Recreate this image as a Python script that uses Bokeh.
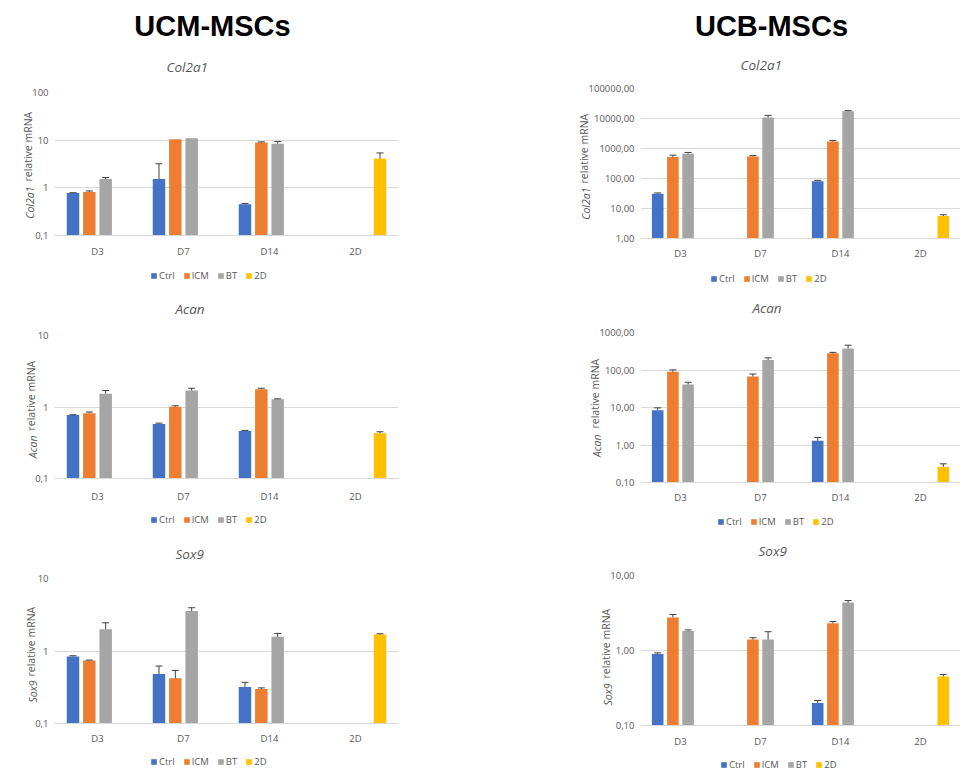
from bokeh.plotting import figure
from bokeh.models import (Range1d, FixedTicker, Legend, LegendItem, Label, Whisker,
                          TeeHead, ColumnDataSource, FactorRange, LinearAxis, LinearScale,
                          Title)
from bokeh.transform import dodge
from bokeh.layouts import column, row
from bokeh.embed import file_html
from bokeh.resources import INLINE

# ---------------- data ----------------
categories = ["D3", "D7", "D14", "2D"]
series = ["Ctrl", "ICM", "BT", "2D"]

# UCM-MSCs  Col2a1
ucm_col2a1_ctrl = [0.78, 1.53, 0.45, None]
ucm_col2a1_ctrl_sd = [0.01, 1.67, 0.02, None]
ucm_col2a1_icm = [0.82, 10.5, 8.9, None]
ucm_col2a1_icm_sd = [0.04, None, 0.3, None]
ucm_col2a1_bt = [1.53, 11.0, 8.4, None]
ucm_col2a1_bt_sd = [0.12, None, 1.0, None]
ucm_col2a1_2d = [None, None, None, 4.1]
ucm_col2a1_2d_sd = [None, None, None, 1.3]

# UCB-MSCs  Col2a1
ucb_col2a1_ctrl = [31.0, None, 81.0, None]
ucb_col2a1_ctrl_sd = [2.0, None, 6.0, None]
ucb_col2a1_icm = [519.0, 546.0, 1714.0, None]
ucb_col2a1_icm_sd = [80.0, 35.0, 140.0, None]
ucb_col2a1_bt = [670.0, 10700.0, 17300.0, None]
ucb_col2a1_bt_sd = [70.0, 2000.0, 1000.0, None]
ucb_col2a1_2d = [None, None, None, 5.6]
ucb_col2a1_2d_sd = [None, None, None, 0.6]

# UCM-MSCs  Acan
ucm_acan_ctrl = [0.77, 0.58, 0.46, None]
ucm_acan_ctrl_sd = [0.01, 0.015, 0.01, None]
ucm_acan_icm = [0.82, 1.01, 1.77, None]
ucm_acan_icm_sd = [0.03, 0.03, 0.06, None]
ucm_acan_bt = [1.53, 1.70, 1.28, None]
ucm_acan_bt_sd = [0.17, 0.13, 0.02, None]
ucm_acan_2d = [None, None, None, 0.43]
ucm_acan_2d_sd = [None, None, None, 0.02]

# UCB-MSCs  Acan
ucb_acan_ctrl = [8.5, None, 1.3, None]
ucb_acan_ctrl_sd = [1.3, None, 0.29, None]
ucb_acan_icm = [89.6, 67.0, 278.0, None]
ucb_acan_icm_sd = [11.0, 11.0, 17.0, None]
ucb_acan_bt = [41.0, 186.0, 377.0, None]
ucb_acan_bt_sd = [6.0, 24.0, 81.0, None]
ucb_acan_2d = [None, None, None, 0.26]
ucb_acan_2d_sd = [None, None, None, 0.055]

# UCM-MSCs  Sox9
ucm_sox9_ctrl = [0.84, 0.48, 0.32, None]
ucm_sox9_ctrl_sd = [0.02, 0.14, 0.05, None]
ucm_sox9_icm = [0.74, 0.42, 0.30, None]
ucm_sox9_icm_sd = [0.01, 0.12, 0.01, None]
ucm_sox9_bt = [2.0, 3.55, 1.57, None]
ucm_sox9_bt_sd = [0.45, 0.40, 0.18, None]
ucm_sox9_2d = [None, None, None, 1.69]
ucm_sox9_2d_sd = [None, None, None, 0.04]

# UCB-MSCs  Sox9
ucb_sox9_ctrl = [0.90, None, 0.20, None]
ucb_sox9_ctrl_sd = [0.03, None, 0.016, None]
ucb_sox9_icm = [2.76, 1.40, 2.30, None]
ucb_sox9_icm_sd = [0.26, 0.08, 0.14, None]
ucb_sox9_bt = [1.82, 1.40, 4.35, None]
ucb_sox9_bt_sd = [0.06, 0.38, 0.28, None]
ucb_sox9_2d = [None, None, None, 0.45]
ucb_sox9_2d_sd = [None, None, None, 0.03]

# axis ticks / labels
ucm_col2a1_ticks = [0.1, 1, 10, 100]
ucm_col2a1_tick_labels = ["0,1", "1", "10", "100"]
ucb_col2a1_ticks = [1, 10, 100, 1000, 10000, 100000]
ucb_col2a1_tick_labels = ["1,00", "10,00", "100,00", "1000,00", "10000,00", "100000,00"]
ucm_acan_ticks = [0.1, 1, 10]
ucm_acan_tick_labels = ["0,1", "1", "10"]
ucb_acan_ticks = [0.1, 1, 10, 100, 1000]
ucb_acan_tick_labels = ["0,10", "1,00", "10,00", "100,00", "1000,00"]
ucm_sox9_ticks = [0.1, 1, 10]
ucm_sox9_tick_labels = ["0,1", "1", "10"]
ucb_sox9_ticks = [0.1, 1, 10]
ucb_sox9_tick_labels = ["0,10", "1,00", "10,00"]

# ---------------- style ----------------
FONT = "Open Sans"
TXT = "#595959"
GRID = "#d9d9d9"
ERR = "#404040"
COLORS = ["#4472C4", "#ED7D31", "#A5A5A5", "#FFC000"]
OFFSETS = [-0.285, -0.095, 0.095, 0.285]
BAR_W = 0.145
YLAB_SIZE = "10.5px"
YLAB_SO = -14          # collapses the side panel of each y label title
GENE_W = {"Col2a1": 33.0, "Acan": 23.0, "Sox9": 22.5}   # approx. text widths
REL_W = 70.0
GAP = 3.0


def chart(gene, vals, sds, ticks, tick_labels, width, height, bl, br, bt, bb,
          title_off, title_so, ylab_c, ylab_gap, xlab_so):
    lo, hi = ticks[0], ticks[-1]
    frame_h = height - bt - bb
    p = figure(x_range=FactorRange(*categories), y_axis_type="log",
               y_range=Range1d(lo, hi), width=width, height=height,
               toolbar_location=None, output_backend="svg", title=gene,
               min_border_left=bl, min_border_right=br,
               min_border_top=bt, min_border_bottom=bb)
    p.outline_line_color = None
    p.background_fill_color = "white"
    p.extra_y_ranges = {"px": Range1d(0, frame_h)}
    p.extra_y_scales = {"px": LinearScale()}

    p.title.text_font = FONT
    p.title.text_font_style = "italic"
    p.title.text_font_size = "13.5px"
    p.title.text_color = TXT
    p.title.align = "left"
    p.title.vertical_align = "top"
    p.title.offset = title_off
    p.title.standoff = title_so

    ticker = FixedTicker(ticks=ticks)
    p.yaxis.ticker = ticker
    p.ygrid.ticker = ticker
    p.yaxis.major_label_overrides = {t: l for t, l in zip(ticks, tick_labels)}
    p.yaxis.axis_line_color = None
    p.yaxis.major_tick_line_color = None
    p.yaxis.minor_tick_line_color = None
    p.yaxis.major_tick_out = 0
    p.yaxis.major_tick_in = 0
    p.yaxis.minor_tick_out = 0
    p.yaxis.major_label_standoff = 6
    p.yaxis.major_label_text_font = FONT
    p.yaxis.major_label_text_font_size = "9.5px"
    p.yaxis.major_label_text_color = TXT

    p.xaxis.axis_line_color = GRID
    p.xaxis.major_tick_line_color = None
    p.xaxis.minor_tick_line_color = None
    p.xaxis.major_tick_out = 0
    p.xaxis.major_tick_in = 0
    p.xaxis.major_label_standoff = xlab_so
    p.xaxis.major_label_text_font = FONT
    p.xaxis.major_label_text_font_size = "9.5px"
    p.xaxis.major_label_text_color = TXT

    p.xgrid.grid_line_color = None
    p.ygrid.grid_line_color = GRID
    p.ygrid.grid_line_width = 1

    sources = []
    for i, name in enumerate(series):
        v = vals[i]
        s = sds[i]
        cats = [c for c, x in zip(categories, v) if x is not None]
        tops = [x for x in v if x is not None]
        src = ColumnDataSource(dict(cat=cats, top=tops))
        sources.append(src)
        p.vbar(x=dodge("cat", OFFSETS[i], range=p.x_range), top="top",
               bottom=lo, width=BAR_W, source=src,
               fill_color=COLORS[i], line_color=None)
        ecats = [c for c, x, e in zip(categories, v, s) if x is not None and e is not None]
        elow = [x for x, e in zip(v, s) if x is not None and e is not None]
        eup = [x + e for x, e in zip(v, s) if x is not None and e is not None]
        if ecats:
            esrc = ColumnDataSource(dict(cat=ecats, lower=elow, upper=eup))
            w = Whisker(source=esrc, base=dodge("cat", OFFSETS[i], range=p.x_range),
                        lower="lower", upper="upper", line_color=ERR, line_width=1,
                        lower_head=None,
                        upper_head=TeeHead(size=7, line_color=ERR, line_width=1),
                        level="overlay")
            p.add_layout(w)

    # empty spacer axis that sets the distance of the y label from the tick labels
    spacer = LinearAxis(y_range_name="px", ticker=FixedTicker(ticks=[]),
                        axis_line_color=None, major_tick_line_color=None,
                        minor_tick_line_color=None, major_tick_out=int(ylab_gap),
                        major_tick_in=0, minor_tick_out=0, minor_tick_in=0)
    p.add_layout(spacer, "left")

    # y axis label in two styles: italic gene name + normal "relative mRNA"
    wg = GENE_W[gene]
    total = wg + GAP + REL_W
    start = ylab_c - total / 2
    end_gene = start + wg
    p.add_layout(Title(text=gene, align="right", vertical_align="bottom",
                       offset=round(frame_h - end_gene), standoff=YLAB_SO,
                       text_font=FONT, text_font_style="italic",
                       text_font_size=YLAB_SIZE, text_color=TXT), "left")
    p.add_layout(Title(text="relative mRNA", align="left", vertical_align="bottom",
                       offset=round(end_gene + GAP), standoff=YLAB_SO,
                       text_font=FONT, text_font_style="normal",
                       text_font_size=YLAB_SIZE, text_color=TXT), "left")
    return p, sources


def legend_strip(width, height, vx, vy, sources, lo):
    q = figure(width=width, height=height, x_range=FactorRange(*categories),
               y_range=Range1d(-2, -1), toolbar_location=None, output_backend="svg",
               min_border=0, x_axis_location=None, y_axis_location=None)
    q.outline_line_color = None
    q.grid.visible = False
    items = []
    for i, (name, src) in enumerate(zip(series, sources)):
        r = q.vbar(x=dodge("cat", OFFSETS[i], range=q.x_range), top="top", bottom=lo,
                   width=0, source=src, fill_color=COLORS[i], line_color=None)
        items.append(LegendItem(label=name, renderers=[r]))
    legend = Legend(items=items, orientation="horizontal", location=(vx, vy),
                    border_line_color=None, background_fill_alpha=0,
                    label_text_font=FONT, label_text_font_size="9.5px",
                    label_text_color=TXT, glyph_width=7, glyph_height=7,
                    label_width=10, label_height=12, label_standoff=2, spacing=8,
                    padding=0, margin=0)
    q.add_layout(legend, "center")
    return q


L1, s_l1 = chart("Col2a1",
                 [ucm_col2a1_ctrl, ucm_col2a1_icm, ucm_col2a1_bt, ucm_col2a1_2d],
                 [ucm_col2a1_ctrl_sd, ucm_col2a1_icm_sd, ucm_col2a1_bt_sd, ucm_col2a1_2d_sd],
                 ucm_col2a1_ticks, ucm_col2a1_tick_labels,
                 428, 218, 54, 30, 49, 24, 112, 30, 71, 21, 9)
L2, s_l2 = chart("Acan",
                 [ucm_acan_ctrl, ucm_acan_icm, ucm_acan_bt, ucm_acan_2d],
                 [ucm_acan_ctrl_sd, ucm_acan_icm_sd, ucm_acan_bt_sd, ucm_acan_2d_sd],
                 ucm_acan_ticks, ucm_acan_tick_labels,
                 428, 221, 54, 30, 50, 26, 121, 31, 70.5, 21, 11)
L3, s_l3 = chart("Sox9",
                 [ucm_sox9_ctrl, ucm_sox9_icm, ucm_sox9_bt, ucm_sox9_2d],
                 [ucm_sox9_ctrl_sd, ucm_sox9_icm_sd, ucm_sox9_bt_sd, ucm_sox9_2d_sd],
                 ucm_sox9_ticks, ucm_sox9_tick_labels,
                 428, 216, 54, 30, 46, 24, 121, 27, 69, 22, 8)
R1, s_r1 = chart("Col2a1",
                 [ucb_col2a1_ctrl, ucb_col2a1_icm, ucb_col2a1_bt, ucb_col2a1_2d],
                 [ucb_col2a1_ctrl_sd, ucb_col2a1_icm_sd, ucb_col2a1_bt_sd, ucb_col2a1_2d_sd],
                 ucb_col2a1_ticks, ucb_col2a1_tick_labels,
                 532, 220, 212, 0, 46, 23, 100, 26, 72, 2, 8)
R2, s_r2 = chart("Acan",
                 [ucb_acan_ctrl, ucb_acan_icm, ucb_acan_bt, ucb_acan_2d],
                 [ucb_acan_ctrl_sd, ucb_acan_icm_sd, ucb_acan_bt_sd, ucb_acan_2d_sd],
                 ucb_acan_ticks, ucb_acan_tick_labels,
                 532, 221, 212, 0, 46, 23, 112, 27, 75.5, 13, 8)
R3, s_r3 = chart("Sox9",
                 [ucb_sox9_ctrl, ucb_sox9_icm, ucb_sox9_bt, ucb_sox9_2d],
                 [ucb_sox9_ctrl_sd, ucb_sox9_icm_sd, ucb_sox9_bt_sd, ucb_sox9_2d_sd],
                 ucb_sox9_ticks, ucb_sox9_tick_labels,
                 532, 222, 212, 0, 46, 24, 118, 27, 69, 18, 9)

LG1 = legend_strip(428, 24, 96, 2, s_l1, ucm_col2a1_ticks[0])
LG2 = legend_strip(428, 26, 96, 5, s_l2, ucm_acan_ticks[0])
LG3 = legend_strip(428, 27, 96, 6, s_l3, ucm_sox9_ticks[0])
RG1 = legend_strip(532, 23, 70, 0, s_r1, ucb_col2a1_ticks[0])
RG2 = legend_strip(532, 22, 77, 0, s_r2, ucb_acan_ticks[0])
RG3 = legend_strip(532, 24, 80, 3, s_r3, ucb_sox9_ticks[0])

# header with the two group titles
header = figure(width=960, height=42, x_range=Range1d(0, 960), y_range=Range1d(0, 42),
                toolbar_location=None, output_backend="svg", min_border=0,
                x_axis_location=None, y_axis_location=None)
header.outline_line_color = None
header.grid.visible = False
for txt, cx in (("UCM-MSCs", 212), ("UCB-MSCs", 771)):
    header.add_layout(Label(x=cx, y=17, x_units="screen", y_units="screen", text=txt,
                            text_font="Liberation Sans", text_font_style="bold",
                            text_font_size="29px", text_color="black",
                            text_align="center", text_baseline="middle"))

layout = column(header, row(column(L1, LG1, L2, LG2, L3, LG3),
                            column(R1, RG1, R2, RG2, R3, RG3)))

with open("out.html", "w") as f:
    f.write(file_html(layout, INLINE))
